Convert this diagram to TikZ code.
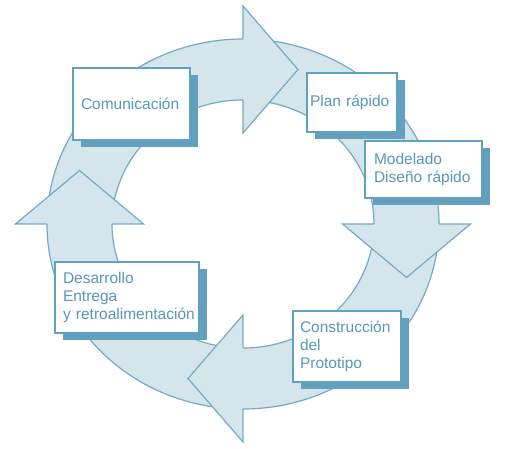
\documentclass[tikz,border=0pt]{standalone}
\usepackage{fontspec}
\setmainfont{Liberation Sans}
\usetikzlibrary{shadows}
\definecolor{ringfill}{RGB}{213,229,236}
\definecolor{ringline}{RGB}{116,170,196}
\definecolor{boxline}{RGB}{96,160,192}
\definecolor{boxtext}{RGB}{88,150,188}
\definecolor{boxshadow}{RGB}{98,160,190}
\tikzset{
  ring/.style={fill=ringfill,draw=ringline,line width=1.2pt,line join=miter},
  stage/.style={draw=boxline,line width=1.3pt,fill=white,text=boxtext,
    align=left,inner xsep=10pt,inner ysep=0pt,
    font=\fontsize{15.5}{18}\selectfont,
    drop shadow={shadow xshift=7.5pt,shadow yshift=-7.5pt,fill=boxshadow,opacity=1}}
}
\begin{document}
\begin{tikzpicture}[x=1pt,y=1pt]
      \useasboundingbox (0,0) rectangle (514,449);
      \begin{scope}[shift={(243,225)}]
        \foreach \a/\b in {176/87, 86/-3, -4/-93, 266/177}
          \filldraw[ring] (\a:196 and 185)
            arc[start angle=\a,end angle=\b,x radius=196,y radius=185]
            -- (\b:131 and 124)
            arc[start angle=\b,end angle=\a,x radius=131,y radius=124] -- cycle;
        \filldraw[ring] (0,185) -- (0,218) -- (55,154.5) -- (0,91) -- (0,124);
        \filldraw[ring] (196,0) -- (227.5,0) -- (163.5,-53.5) -- (99.5,0) -- (131,0);
        \filldraw[ring] (0,-185) -- (0,-218) -- (-55,-154.5) -- (0,-91) -- (0,-124);
        \filldraw[ring] (-196,0) -- (-227.5,0) -- (-163.5,53.5) -- (-99.5,0) -- (-131,0);
      \end{scope}
      \node[stage,inner xsep=8pt,text width=101pt,minimum height=72pt] (com) at (131.5,345) {Comunicación};
      \node[stage,inner xsep=3pt,text width=84pt,minimum height=59pt] (plan) at (352,346.5) {Plan rápido};
      \node[stage,inner xsep=9pt,text width=99pt,minimum height=57pt] (mod) at (423.5,279.5) {Modelado\\Diseño rápido};
      \node[stage,inner xsep=7pt,text width=94pt,minimum height=71pt] (cons) at (347,102.5) {Construcción\\del\\Prototipo};
      \node[stage,inner xsep=8pt,text width=128pt,minimum height=71pt] (des) at (127,151.5) {Desarrollo\\Entrega\\\mbox{y retroalimentación}};
    \end{tikzpicture}
\end{document}
